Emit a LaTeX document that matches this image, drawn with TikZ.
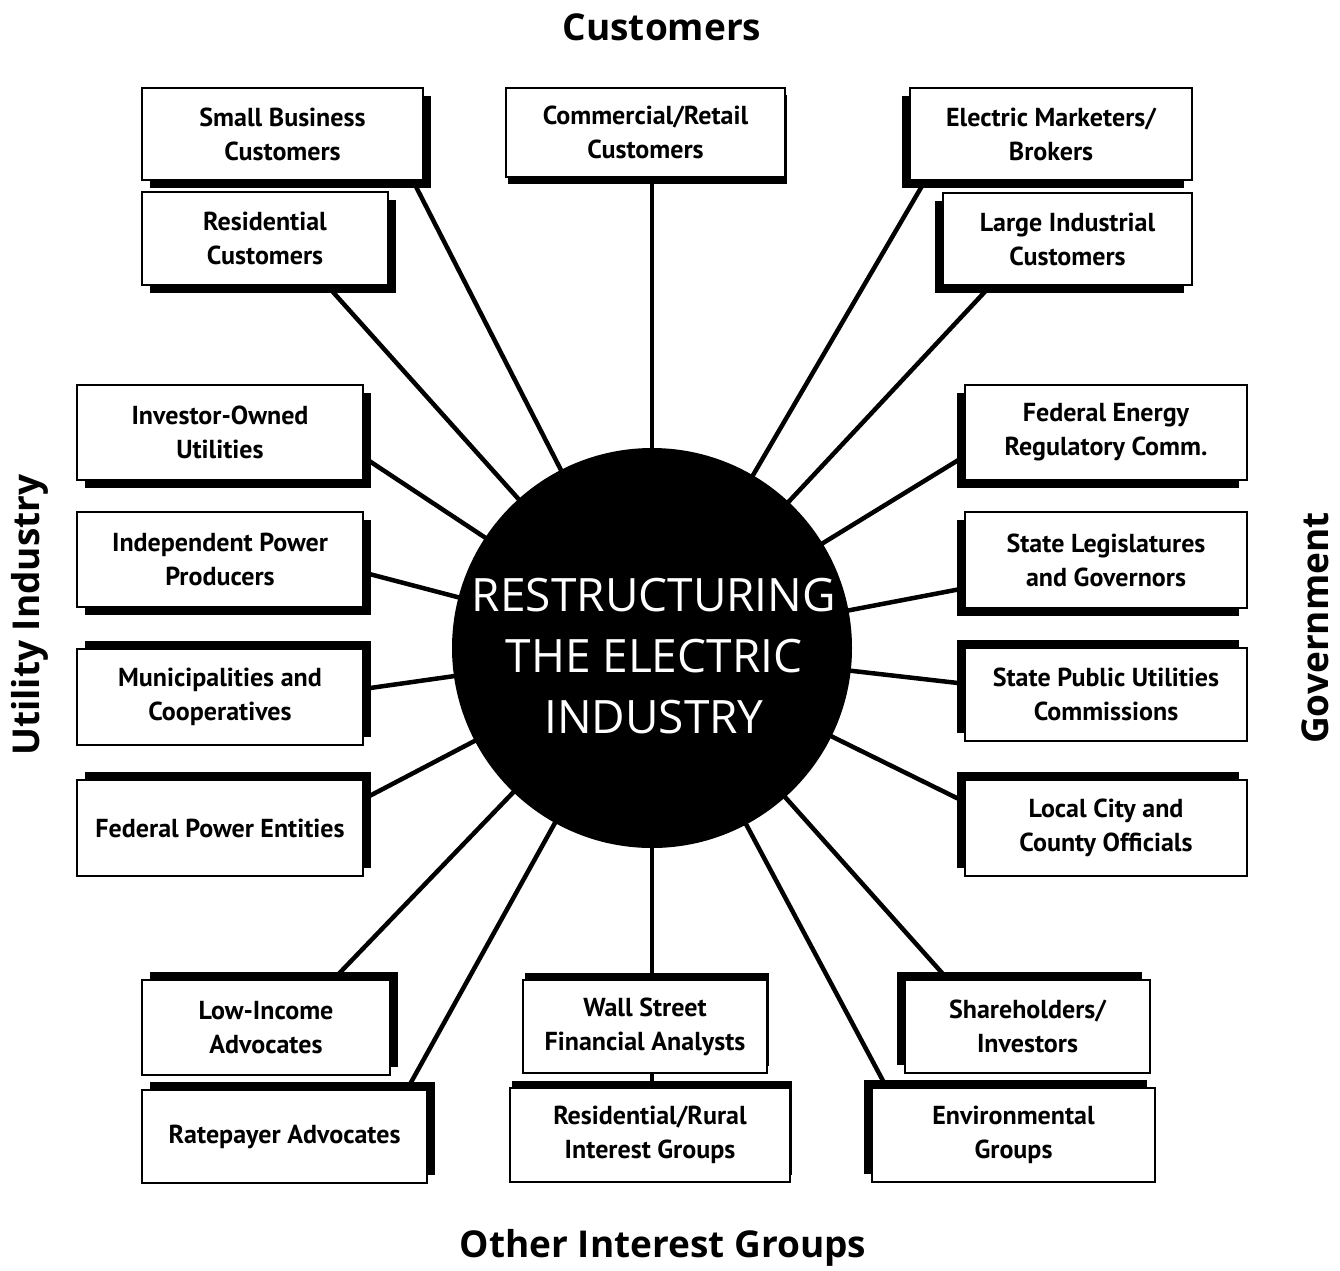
\documentclass[tikz,border=0pt]{standalone}
\usepackage{fontspec}
\setmainfont{Open Sans}
\newfontfamily\boxfont{PT Sans}
\usetikzlibrary{calc,shadows,backgrounds}

\begin{document}
\begin{tikzpicture}[x=1pt,y=-1pt,
  spoke/.style={line width=4.5pt},
  card/.style={rectangle, draw, line width=2pt, fill=white, inner sep=0pt, align=center,
    font=\boxfont\bfseries\fontsize{26}{34}\selectfont},
  shRD/.style={drop shadow={shadow xshift=8pt, shadow yshift=-8pt, opacity=1, fill=black}},
  shLD/.style={drop shadow={shadow xshift=-8pt, shadow yshift=-8pt, opacity=1, fill=black}},
  shRU/.style={drop shadow={shadow xshift=8pt, shadow yshift=8pt, opacity=1, fill=black}},
  shLU/.style={drop shadow={shadow xshift=-8pt, shadow yshift=8pt, opacity=1, fill=black}},
  shD/.style={drop shadow={shadow xshift=2pt, shadow yshift=-7pt, opacity=1, fill=black}},
  shU/.style={drop shadow={shadow xshift=2pt, shadow yshift=7pt, opacity=1, fill=black}},
  heading/.style={font=\bfseries\fontsize{37}{40}\selectfont, inner sep=0pt},
]
\useasboundingbox (0,0) rectangle (1340,1270);

% group headings
\node[heading] (tcust) at (662,27) {Customers};
\node[heading] (tother) at (663,1248) {Other Interest Groups};
\node[heading, rotate=90] (tutil) at (30,615) {Utility Industry};
\node[heading, rotate=90] (tgov) at (1315,628) {Government};

% customers
\node[card, shRD, minimum width=281pt, minimum height=92pt] (sb) at (282.5,134) {Small Business\\Customers};
\node[card, shRD, minimum width=246pt, minimum height=93pt] (rc) at (265,238.5) {Residential\\Customers};
\node[card, shD, minimum width=279pt, minimum height=89pt] (cr) at (645.5,132.5) {Commercial/Retail\\Customers};
\node[card, shLD, minimum width=282pt, minimum height=92pt] (em) at (1051,134) {Electric Marketers/\\Brokers};
\node[card, shLD, minimum width=249pt, minimum height=92pt] (li) at (1067.5,239) {Large Industrial\\Customers};

% utility industry
\node[card, shRD, minimum width=286pt, minimum height=95pt] (io) at (220,432.5) {Investor-Owned\\Utilities};
\node[card, shRD, minimum width=286pt, minimum height=95pt] (ip) at (220,559.5) {Independent Power\\Producers};
\node[card, shRU, minimum width=286pt, minimum height=96pt] (mc) at (220,697) {Municipalities and\\Cooperatives};
\node[card, shRU, minimum width=286pt, minimum height=96pt] (fp) at (220,828) {Federal Power Entities};

% government
\node[card, shLD, minimum width=282pt, minimum height=95pt] (fe) at (1106,432.5) {Federal Energy\\Regulatory Comm.};
\node[card, shLD, minimum width=282pt, minimum height=96pt] (sl) at (1106,560) {State Legislatures\\and Governors};
\node[card, shLU, minimum width=282pt, minimum height=93pt] (sp) at (1106,694.5) {State Public Utilities\\Commissions};
\node[card, shLU, minimum width=282pt, minimum height=96pt] (lc) at (1106,828) {Local City and\\County Officials};

% other interest groups
\node[card, shRU, minimum width=248pt, minimum height=95pt] (lo) at (266,1027.5) {Low-Income\\Advocates};
\node[card, shRU, minimum width=285pt, minimum height=93pt] (ra) at (284.5,1136.5) {Ratepayer Advocates};
\node[card, shU, minimum width=244pt, minimum height=93pt] (ws) at (645,1026.5) {Wall Street\\Financial Analysts};
\node[card, shU, minimum width=280pt, minimum height=94pt] (rr) at (650,1135) {Residential/Rural\\Interest Groups};
\node[card, shLU, minimum width=245pt, minimum height=93pt] (sh) at (1027.5,1026.5) {Shareholders/\\Investors};
\node[card, shLU, minimum width=283pt, minimum height=94pt] (en) at (1013.5,1135) {Environmental\\Groups};

% central hub and its title
\node[circle, fill=black, minimum size=400pt, inner sep=0pt] (hub) at (652,648) {};
\node[text=white, align=center, inner sep=0pt, font=\fontsize{46}{61}\selectfont] (hubtitle)
  at (654,656) {RESTRUCTURING\\THE ELECTRIC\\INDUSTRY};

\begin{scope}[on background layer]
  \fill[white] (0,0) rectangle (1340,1270);
  \draw[spoke] (hub.center) -- ($(sb.south east)+(-15,-8)$);
  \draw[spoke] (hub.center) -- ($(rc.south east)+(-65,-4)$);
  \draw[spoke] (hub.center) -- (hub |- cr.center);
  \draw[spoke] (hub.center) -- ($(em.south west)+(20,-7)$);
  \draw[spoke] (hub.center) -- ($(li.south west)+(52,-4)$);
  \draw[spoke] (hub.center) -- ($(io.east)+(-6,21)$);
  \draw[spoke] (hub.center) -- ($(ip.east)+(-8,11)$);
  \draw[spoke] (hub.center) -- ($(mc.east)+(-8,-7)$);
  \draw[spoke] (hub.center) -- ($(fp.east)+(-6,-26)$);
  \draw[spoke] (hub.center) -- ($(fe.west)+(5,21)$);
  \draw[spoke] (hub.center) -- ($(sl.west)+(7,27)$);
  \draw[spoke] (hub.center) -- ($(sp.west)+(7,-10)$);
  \draw[spoke] (hub.center) -- ($(lc.west)+(5,-24)$);
  \draw[spoke] (hub.center) -- ($(lo.north east)+(-63,6)$);
  \draw[spoke] (hub.center) -- ($(ra.north east)+(-24,6)$);
  \draw[spoke] (hub.center) -- (hub |- rr.center);
  \draw[spoke] (hub.center) -- ($(sh.north west)+(47,4)$);
  \draw[spoke] (hub.center) -- ($(en.north west)+(18,5)$);
\end{scope}
\end{tikzpicture}
\end{document}
